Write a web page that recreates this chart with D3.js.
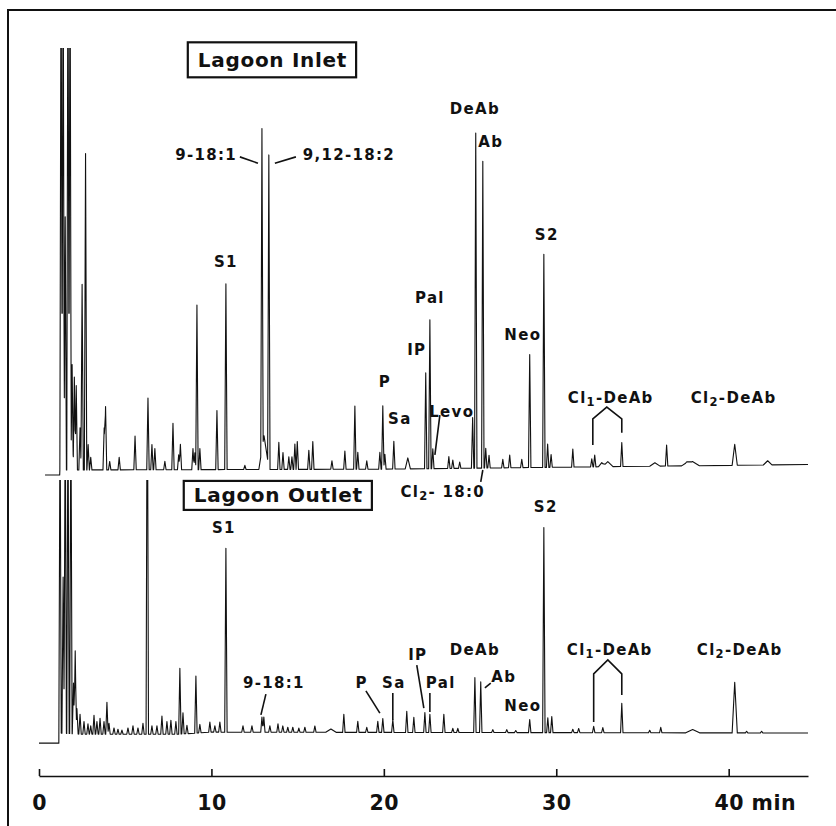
<!DOCTYPE html>
<html>
<head>
<meta charset="utf-8">
<script src="https://cdn.jsdelivr.net/npm/d3@7"></script>
<style>
  body { margin: 0; background: #fff; }
  svg { display: block; }
  text { font-family: "DejaVu Sans", "Liberation Sans", Arial, sans-serif; font-weight: bold; fill: #111; }
</style>
</head>
<body>
<svg id="chart"></svg>
<script>
// retention time axis ticks (min)
const timeTicks = [0, 10, 20, 30, 40]

// baseline level: [time, response]
const inletBase = [[0.35, -1.2], [1.2, -1.2], [1.21, 0], [20, 0.2], [44.6, 1.3]]
const outletBase = [[0, -2.4], [1.2, -2.4], [1.21, 0], [2.5, -0.3], [8, -0.3], [10, 0.2], [44.6, 0]]

// peaks: [time (min), height (relative response), half width (min)]
const inletPeaks = [
  [1.28, 130], [1.40, 130], [1.52, 60], [1.68, 130], [1.80, 130], [1.92, 25], [2.05, 22],
  [2.16, 20], [2.38, 10], [2.50, 44], [2.70, 75], [2.85, 6], [3.0, 3],
  [3.78, 10], [3.86, 15], [4.1, 2], [4.65, 3], [5.57, 8], [6.32, 17], [6.55, 6], [6.72, 5],
  [7.3, 2], [7.77, 11], [8.1, 3.5], [8.2, 6], [8.93, 5], [9.04, 4], [9.16, 39], [9.33, 5],
  [10.32, 14], [10.84, 44], [11.94, 1], [12.93, 76], [13.05, 8, 0.3], [13.33, 74],
  [13.91, 6.4], [14.15, 4], [14.49, 3], [14.67, 3], [14.84, 6], [14.98, 6.6],
  [15.65, 4.5], [15.88, 6.6], [16.99, 2], [17.74, 4.3], [18.32, 15], [18.49, 4], [19.01, 2],
  [19.77, 4], [19.94, 15], [20.06, 3.5], [20.58, 6.6], [21.39, 2.6, 0.15],
  [22.43, 22.7], [22.67, 35.3], [22.84, 4.7], [23.77, 2.8], [24.0, 2], [24.4, 1.5],
  [25.15, 12], [25.33, 79.4], [25.74, 72.7], [25.91, 4.7], [26.1, 3], [26.9, 2], [27.3, 3], [28.0, 2],
  [28.46, 26.8], [29.28, 50.5], [29.5, 5.5], [29.7, 3],
  [30.96, 4.3], [32.06, 1.9], [32.23, 2.8], [32.64, 1, 0.2], [32.99, 1.2, 0.3], [33.80, 5.7],
  [35.72, 0.8, 0.3], [36.40, 5], [37.57, 0.8, 0.3], [37.9, 1, 0.4], [40.35, 5, 0.15], [42.26, 1, 0.25]
]

const outletPeaks = [
  [1.22, 80], [1.40, 37], [1.52, 80], [1.68, 80], [1.85, 80], [2.0, 12], [2.1, 19.7], [2.2, 6],
  [2.38, 4.7], [2.61, 3], [2.84, 2.5], [3.0, 2], [3.19, 4.5], [3.36, 3], [3.54, 3.8], [3.77, 3],
  [3.94, 7.6], [4.06, 2.6], [4.35, 1.5], [4.58, 1.2], [4.81, 1], [5.16, 1.5], [5.45, 2],
  [5.74, 1.5], [6.03, 2.6], [6.28, 100], [6.55, 2], [6.84, 2], [7.13, 4.3], [7.42, 3],
  [7.65, 3.3], [7.94, 3], [8.17, 15.6], [8.35, 5], [8.58, 2], [9.1, 13.5], [9.33, 2],
  [9.91, 2.4], [10.2, 1.5], [10.49, 2.4], [10.84, 43.6], [11.83, 1.5], [12.35, 1.5],
  [12.93, 3.6], [13.04, 3.6], [13.39, 1.5], [13.86, 2], [14.14, 1.5], [14.43, 1.2],
  [14.72, 1.2], [15.07, 1], [15.42, 1.2], [16.0, 1.5], [16.93, 0.8, 0.3], [17.68, 4.3],
  [18.49, 2.6], [19.01, 1.2], [19.65, 2.6], [19.94, 3.3], [20.52, 3], [21.33, 5], [21.74, 3.6],
  [22.38, 4.7], [22.67, 4.3], [23.48, 4.3], [24.0, 1], [24.29, 1], [25.28, 13], [25.62, 12],
  [26.32, 0.7], [27.13, 0.7], [27.65, 0.5], [28.46, 3.1], [29.28, 48.6], [29.51, 3.5], [29.74, 3.8],
  [30.96, 0.8], [31.3, 1], [32.17, 1.5], [32.70, 1.2], [33.80, 7], [35.42, 0.6], [36.06, 1.3],
  [37.91, 0.8, 0.4], [40.35, 12, 0.15], [41.04, 0.4], [41.91, 0.4]
]

// peak labels: [text, time, response, anchor]; "|" marks a subscript
const inletLabels = [
  ["9-18:1", 11.48, 74.6, "end"], ["9,12-18:2", 15.30, 74.6, "start"],
  ["S1", 10.84, 49.3], ["P", 20.06, 20.9], ["Sa", 20.93, 12.1], ["IP", 21.91, 28.4],
  ["Pal", 22.67, 40.8], ["Levo", 23.94, 13.7], ["DeAb", 25.28, 85.5], ["Ab", 26.2, 77.7],
  ["Neo", 28.06, 32.0], ["S2", 29.45, 55.7],
  ["Cl|1|-DeAb", 33.16, 17.1], ["Cl|2|-DeAb", 40.29, 17.1], ["Cl|2|- 18:0", 23.42, -5.2]
]
const outletLabels = [
  ["S1", 10.72, 48.6], ["9-18:1", 13.62, 11.8], ["P", 18.72, 11.8], ["Sa", 20.58, 11.8],
  ["IP", 21.97, 18.5], ["Pal", 23.3, 11.8], ["DeAb", 25.28, 19.7], ["Ab", 26.96, 13.3],
  ["Neo", 28.06, 6.4], ["S2", 29.39, 53.6], ["Cl|1|-DeAb", 33.1, 19.7], ["Cl|2|-DeAb", 40.64, 19.7]
]

// leader lines and brackets, as [time, response] points
const inletLeaders = [
  [[11.65, 74.2], [12.70, 72.7]], [[13.68, 72.7], [14.9, 74.2]],
  [[23.25, 13.0], [22.96, 3.6]], [[25.74, 0], [25.62, -2.8]],
  [[32.12, 5.9], [32.12, 12.1], [32.93, 14.9], [33.8, 12.1], [33.8, 8.8]]
]
const outletLeaders = [
  [[13.16, 9.2], [12.87, 4.3]], [[18.96, 10], [19.77, 4.7]], [[20.52, 9.5], [20.52, 3.1]],
  [[21.91, 16.1], [22.32, 5.9]], [[22.67, 9.5], [22.67, 5.0]], [[25.86, 10.7], [26.2, 11.8]],
  [[32.17, 2.6], [32.17, 14], [32.99, 17.3], [33.8, 14], [33.8, 9]]
]

const width = 836, height = 826

let svg = d3.select("#chart").attr("width", width).attr("height", height)

let x = d3.scaleLinear().domain([0, 44.6]).range([39, 808])
let yInlet = d3.scaleLinear().domain([0, 100]).range([470, 48])
let yOutlet = d3.scaleLinear().domain([0, 100]).range([733, 311])

// frame (top and left edges only, page is cropped)
svg.append("path")
  .attr("d", `M8,826 L8,10 L836,10`)
  .attr("fill", "none").attr("stroke", "#111").attr("stroke-width", 2)

let defs = svg.append("defs")
defs.append("clipPath").attr("id", "clip-inlet")
  .append("rect").attr("x", 0).attr("y", 48).attr("width", width).attr("height", 440)
defs.append("clipPath").attr("id", "clip-outlet")
  .append("rect").attr("x", 0).attr("y", 480).attr("width", width).attr("height", 280)

function buildTrace(peaks, base) {
  let times = base.map(d => d[0])
  peaks.forEach(p => {
    let w = p[2] || 0.07
    times.push(p[0] - w, p[0], p[0] + w)
  })
  times = Array.from(new Set(times)).sort((a, b) => a - b)
  let start = base[0][0]
  let baseAt = t => {
    for (let i = 1; i < base.length; i++) {
      if (t <= base[i][0]) {
        let a = base[i - 1], b = base[i]
        return a[1] + (b[1] - a[1]) * (t - a[0]) / (b[0] - a[0])
      }
    }
    return base[base.length - 1][1]
  }
  return times.filter(t => t >= start).map(t => {
    let v = baseAt(t)
    peaks.forEach(p => {
      let w = p[2] || 0.07
      let d = Math.abs(t - p[0])
      if (d < w) v += p[1] * (1 - d / w)
    })
    return {t: t, v: v}
  })
}

function drawPanel(id, y, peaks, base, labels, leaders) {
  let line = d3.line().x(d => x(d.t)).y(d => y(d.v))

  svg.append("g").attr("clip-path", `url(#clip-${id})`)
    .append("path")
    .datum(buildTrace(peaks, base))
    .attr("d", line)
    .attr("fill", "none")
    .attr("stroke", "#111")
    .attr("stroke-width", 1.1)
    .attr("stroke-linejoin", "round")

  svg.append("g").selectAll("path")
    .data(leaders)
    .enter()
    .append("path")
      .attr("d", d => line(d.map(p => ({t: p[0], v: p[1]}))))
      .attr("fill", "none")
      .attr("stroke", "#111")
      .attr("stroke-width", 1.6)

  labels.forEach(l => {
    let txt = svg.append("text")
      .attr("x", x(l[1]))
      .attr("y", y(l[2]))
      .attr("text-anchor", l[3] || "middle")
      .attr("dominant-baseline", "central")
      .attr("font-size", 15)
      .attr("letter-spacing", 1.3)
    let parts = l[0].split("|")
    if (parts.length === 1) {
      txt.text(l[0])
    } else {
      txt.append("tspan").text(parts[0])
      txt.append("tspan").text(parts[1]).attr("font-size", 11.5).attr("dy", 4)
      txt.append("tspan").text(parts[2]).attr("dy", -4)
    }
  })
}

drawPanel("inlet", yInlet, inletPeaks, inletBase, inletLabels, inletLeaders)
drawPanel("outlet", yOutlet, outletPeaks, outletBase, outletLabels, outletLeaders)

// boxed sample titles
function titleBox(label, t, v, y, padY) {
  let g = svg.append("g")
  let txt = g.append("text")
    .attr("x", x(t)).attr("y", y(v))
    .attr("text-anchor", "middle")
    .attr("dominant-baseline", "central")
    .attr("font-size", 20)
    .attr("letter-spacing", 0.7)
    .text(label)
  let bb = txt.node().getBBox()
  g.insert("rect", "text")
    .attr("x", bb.x - 10).attr("y", y(v) - padY)
    .attr("width", bb.width + 19).attr("height", padY * 2)
    .attr("fill", "#fff").attr("stroke", "#111").attr("stroke-width", 2.2)
}
titleBox("Lagoon Inlet", 13.54, 97.2, yInlet, 17.5)
titleBox("Lagoon Outlet", 13.88, 56.3, yOutlet, 14.5)

// time axis, ticks pointing up
let axis = svg.append("g")
  .attr("transform", "translate(0,776)")
  .call(d3.axisBottom(x).tickValues(timeTicks).tickSize(-7).tickSizeOuter(0))
axis.select(".domain").attr("stroke", "#111").attr("stroke-width", 1.6)
axis.selectAll(".tick line").attr("stroke", "#111").attr("stroke-width", 1.6)
axis.selectAll(".tick text")
  .attr("fill", "#111")
  .attr("font-family", "DejaVu Sans, Liberation Sans, Arial, sans-serif")
  .attr("font-weight", "bold")
  .attr("font-size", 20.5)
  .attr("letter-spacing", 0.5)
  .attr("y", 27)
  .attr("dy", "0.35em")
axis.selectAll(".tick text").filter(d => d === 40).each(function() {
  let t = d3.select(this).text("40 min").attr("text-anchor", "start")
  let w = this.getSubStringLength(0, 2)
  t.attr("x", -w / 2)
})
</script>
</body>
</html>
